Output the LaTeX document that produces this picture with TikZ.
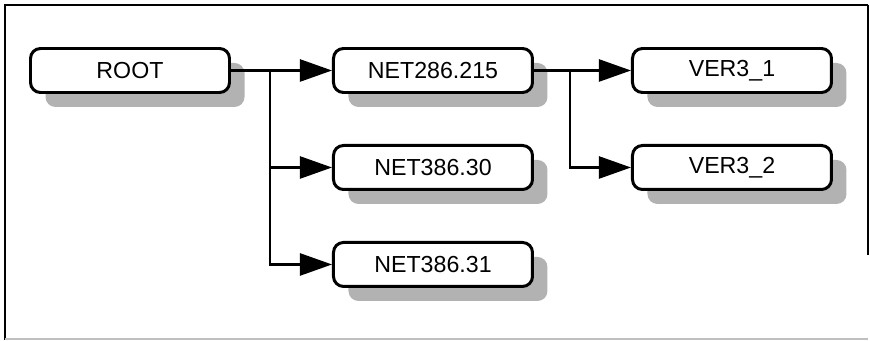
\documentclass[tikz,border=0pt]{standalone}
\usepackage{fontspec}
\setmainfont{Liberation Sans}
\usetikzlibrary{positioning, arrows.meta, shadows}

\begin{document}
\begin{tikzpicture}[node distance=1cm and 2cm,
            dirbox/.style={rectangle, rounded corners=0.2cm, minimum width=3.98cm, minimum height=0.88cm, align=center, draw=black, line width=1.7pt, fill=white, font=\fontsize{13.2}{15}\selectfont,
              drop shadow={shadow xshift=0.3cm, shadow yshift=-0.29cm, fill=black!30, opacity=1}},
            arrow/.style={line width=1.4pt, -{Triangle[length=0.64cm, width=0.44cm]}}]

            \useasboundingbox (0,0) rectangle (17.4,-6.82);

            % --- Marco ---
            \draw[line width=1.6pt] (0.1,-6.8) -- (0.1,-0.1) -- (17.36,-0.1);
            \draw[line width=0.8pt] (17.36,-0.1) -- (17.36,-5.1);
            \draw[line width=0.8pt, black!25] (0.1,-6.78) -- (17.36,-6.78);

            % --- Nivel 1 ---
            \node (root) [dirbox] at (2.6,-1.41) {ROOT};

            % --- Nivel 2 ---
            \node (net215) [dirbox, right=2.02cm of root] {NET286.215};
            \node (net30) [dirbox, below=of net215] {NET386.30};
            \node (net31) [dirbox, below=of net30] {NET386.31};

            % --- Nivel 3 ---
            \node (ver1) [dirbox, right=1.94cm of net215] {VER3\_1};
            \node (ver2) [dirbox, below=of ver1] {VER3\_2};

            \draw [arrow] (root) -- (net215);
            \draw [arrow] (root.east) -- ++(0.78,0) |- (net30.west);
            \draw [arrow] (root.east) -- ++(0.78,0) |- (net31.west);

            \draw [arrow] (net215) -- (ver1);
            \draw [arrow] (net215.east) -- ++(0.72,0) |- (ver2.west);

        \end{tikzpicture}
\end{document}
